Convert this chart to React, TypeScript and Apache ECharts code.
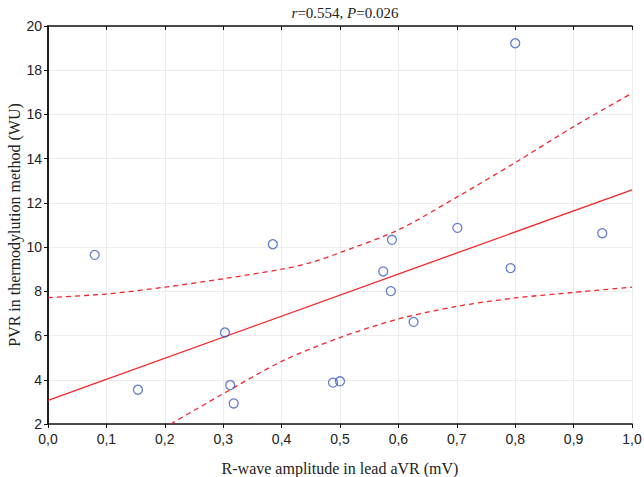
import React, { useEffect, useRef } from "react";
import * as echarts from "echarts";

const xValues = [0.08, 0.154, 0.303, 0.312, 0.318, 0.385, 0.488, 0.5, 0.574, 0.589, 0.587, 0.626, 0.701, 0.792, 0.949, 0.8];
const yValues = [9.65, 3.55, 6.14, 3.76, 2.93, 10.13, 3.87, 3.93, 8.9, 10.33, 8.01, 6.62, 10.87, 9.05, 10.63, 19.22];

const fitX = [0, 1];
const fitY = [3.07, 12.59];

const upperX = [0, 0.1, 0.2, 0.3, 0.4, 0.45, 0.5, 0.6, 0.7, 0.8, 0.9, 1.0];
const upperY = [7.72, 7.88, 8.19, 8.57, 9.0, 9.3, 9.75, 10.78, 12.26, 13.82, 15.45, 16.96];

const lowerX = [0.21, 0.3, 0.4, 0.5, 0.6, 0.7, 0.8, 0.9, 1.0];
const lowerY = [2.0, 3.37, 4.83, 5.91, 6.75, 7.32, 7.7, 7.95, 8.19];

const xTicks = { min: 0, max: 1, interval: 0.1 };
const yTicks = { min: 2, max: 20, interval: 2 };

const pairs = (xs: number[], ys: number[]) => xs.map((x, i) => [x, ys[i]]);

export default function App() {
  const ref = useRef<HTMLDivElement>(null);
  useEffect(() => {
    if (!ref.current) return;
    const chart = echarts.init(ref.current, null, { renderer: "svg" });
    const red = "#f2262b";
    const gridLine = { show: true, lineStyle: { color: "#ececec", width: 1 } };
    const labelFont = { fontFamily: "Liberation Sans", fontSize: 14, color: "#222" };
    chart.setOption({
      animation: false,
      backgroundColor: "#fff",
      title: {
        text: "{i|r}{n|=0.554, }{i|P}{n|=0.026}",
        left: 340,
        textAlign: "center",
        top: 0,
        textStyle: {
          fontWeight: "normal",
          rich: {
            i: { fontFamily: "Liberation Serif", fontStyle: "italic", fontWeight: "normal", fontSize: 15, color: "#222" },
            n: { fontFamily: "Liberation Serif", fontWeight: "normal", fontSize: 15, color: "#222" },
          },
        },
      },
      grid: { left: 48, right: 12, top: 26, bottom: 53, outerBoundsMode: "none", containLabel: false },
      xAxis: [
        {
          type: "value",
          ...xTicks,
          name: "R-wave amplitude in lead aVR (mV)",
          nameLocation: "middle",
          nameGap: 36,
          nameMoveOverlap: false,
          nameTextStyle: { fontFamily: "Liberation Serif", fontSize: 16, color: "#222" },
          axisLine: { show: true, onZero: false, lineStyle: { color: "#111", width: 1.5 } },
          axisTick: { show: true, inside: false, length: 4, lineStyle: { color: "#111" } },
          axisLabel: { ...labelFont, margin: 8, formatter: (v: number) => v.toFixed(1).replace(".", ",") },
          splitLine: gridLine,
        },
        {
          type: "value",
          ...xTicks,
          position: "top",
          axisLine: { show: true, lineStyle: { color: "#111", width: 1.5 } },
          axisTick: { show: true, inside: true, length: 4, lineStyle: { color: "#111" } },
          axisLabel: { show: false },
          splitLine: { show: false },
        },
      ],
      yAxis: [
        {
          type: "value",
          ...yTicks,
          name: "PVR in thermodylution method (WU)",
          nameLocation: "middle",
          nameGap: 26,
          nameMoveOverlap: false,
          nameTextStyle: { fontFamily: "Liberation Serif", fontSize: 16, color: "#222" },
          axisLine: { show: true, onZero: false, lineStyle: { color: "#111", width: 1.5 } },
          axisTick: { show: true, inside: false, length: 4, lineStyle: { color: "#111" } },
          axisLabel: { ...labelFont, margin: 6 },
          splitLine: gridLine,
        },
        {
          type: "value",
          ...yTicks,
          position: "right",
          axisLine: { show: true, lineStyle: { color: "#111", width: 1.5 } },
          axisTick: { show: true, inside: true, length: 4, lineStyle: { color: "#111" } },
          axisLabel: { show: false },
          splitLine: { show: false },
        },
      ],
      series: [
        {
          type: "line",
          data: pairs(upperX, upperY),
          smooth: 0.3,
          showSymbol: false,
          symbol: "none",
          lineStyle: { color: red, width: 1.3, type: [5, 4] },
          z: 2,
        },
        {
          type: "line",
          data: pairs(lowerX, lowerY),
          smooth: 0.3,
          showSymbol: false,
          symbol: "none",
          lineStyle: { color: red, width: 1.3, type: [5, 4] },
          z: 2,
        },
        {
          type: "line",
          data: pairs(fitX, fitY),
          showSymbol: false,
          symbol: "none",
          lineStyle: { color: red, width: 1.3 },
          z: 3,
        },
        {
          type: "scatter",
          data: pairs(xValues, yValues),
          symbol: "circle",
          symbolSize: 9,
          itemStyle: { color: "transparent", borderColor: "#3d5cc0", borderWidth: 1.3 },
          z: 4,
        },
      ],
    });
    return () => chart.dispose();
  }, []);
  return <div ref={ref} style={{ position: "fixed", left: 0, top: 0, width: 644, height: 477 }} />;
}
